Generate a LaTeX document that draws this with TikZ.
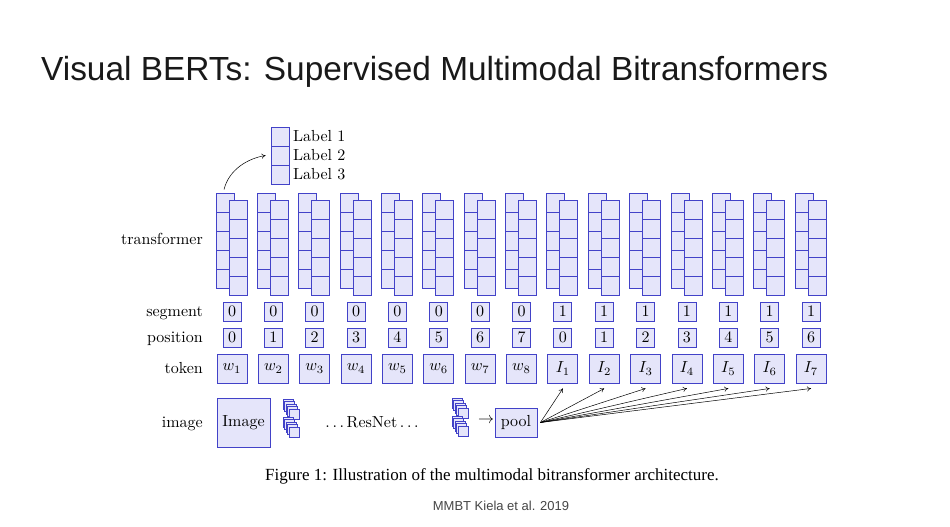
\RequirePackage{fix-cm}
\documentclass[tikz,border=0pt]{standalone}
\usepackage{fontspec}
\newfontfamily\titlefont{Liberation Sans}
\newfontfamily\capfont{Liberation Serif}
\usetikzlibrary{calc,arrows.meta}
\definecolor{bfill}{RGB}{229,229,250}
\definecolor{bdraw}{RGB}{66,66,200}
\definecolor{titlecol}{RGB}{25,25,25}
\definecolor{refcol}{RGB}{70,70,70}
\newcommand\dtxt[1]{\scalebox{1.6}{#1}}
\begin{document}
\begin{tikzpicture}[x=1pt,y=-1pt,
  every node/.style={font=\fontsize{10}{12}\selectfont},
  cell/.style={draw=bdraw,fill=bfill,line width=0.9pt,minimum width=18pt,minimum height=19pt,inner sep=0pt},
  tokbox/.style={cell,minimum width=30pt,minimum height=29pt},
  fmap/.style={cell,minimum width=10pt,minimum height=10pt,line width=0.8pt},
  rowlab/.style={anchor=base east,inner sep=0pt},
  arr/.style={-{To[length=4pt,width=5pt]},line width=0.5pt}
]
\fill[white] (0,0) rectangle (950,527);
\useasboundingbox (0,0) rectangle (950,527);

% title
\node[anchor=base west,inner sep=0pt,font=\titlefont\fontsize{33.4}{40}\selectfont,text=titlecol] (title) at (41,81) {Visual BERTs: Supervised Multimodal Bitransformers};

% transformer columns
\foreach \i in {1,...,15}{
  \pgfmathsetmacro\cx{232+41.36*(\i-1)}
  \foreach \j in {1,...,5}{
    \node[cell] (tb-\i-\j) at (\cx-7,183.5+19*\j) {};
  }
  \foreach \j in {1,...,5}{
    \node[cell] (tf-\i-\j) at (\cx+6,190.5+19*\j) {};
  }
  \pgfmathtruncatemacro\seg{\i>8 ? 1 : 0}
  \pgfmathtruncatemacro\pos{\i>8 ? \i-9 : \i-1}
  \pgfmathtruncatemacro\k{\i>8 ? \i-8 : \i}
  \node[cell] (seg-\i) at (\cx,311.5) {\dtxt{\seg}};
  \node[cell] (pos-\i) at (\cx,337.5) {\dtxt{\pos}};
  \ifnum\i>8
    \node[tokbox] (tok-\i) at (\cx,368.5) {\dtxt{$I_{\k}$}};
  \else
    \node[tokbox] (tok-\i) at (\cx,368.5) {\dtxt{$w_{\k}$}};
  \fi
}

% label stack
\foreach \j in {1,2,3}{
  \node[cell] (lab-\j) at (280,117.5+19*\j) {};
  \node[anchor=west,inner sep=0pt] (labt-\j) at (293,117.5+19*\j) {\dtxt{Label \j}};
}
\draw[arr] ($(tb-1-1.north)+(-1,-3)$) .. controls +(5,-20) and +(-18,3) .. ($(lab-2.west)+(-5,0)$);

% row labels
\node[rowlab] (rl-tr) at (203,244) {\dtxt{transformer}};
\node[rowlab] (rl-seg) at (203,316) {\dtxt{segment}};
\node[rowlab] (rl-pos) at (203,342) {\dtxt{position}};
\node[rowlab] (rl-tok) at (203,373) {\dtxt{token}};
\node[rowlab] (rl-img) at (203,427) {\dtxt{image}};

% image row
\node[cell,minimum width=53pt,minimum height=49pt] (img) at (243.5,422.5) {\dtxt{Image}};
\foreach \g in {0,1}{
  \foreach \n in {0,...,4}{
    \node[fmap] (fa-\g-\n) at (288+1.5*\n,404+18*\g+2.5*\n) {};
    \node[fmap] (fb-\g-\n) at (457+1.5*\n,403+18*\g+2.5*\n) {};
  }
}
\node (resnet) at (372,422) {\dtxt{$\ldots$\,ResNet\,$\ldots$}};
\node (arrtxt) at (486,421) {\dtxt{$\rightarrow$}};
\node[cell,minimum width=42pt,minimum height=29pt] (pool) at (516,422.5) {\dtxt{pool}};
\foreach \i in {9,...,15}{
  \draw[arr] ($(pool.east)+(3,0)$) -- ($(tok-\i.south)+(0,5)$);
}

% caption
\node[anchor=base,inner sep=0pt,font=\capfont\fontsize{17}{20}\selectfont] (cap) at (492,480) {Figure 1: Illustration of the multimodal bitransformer architecture.};
\node[anchor=base,inner sep=0pt,font=\titlefont\fontsize{13}{15}\selectfont,text=refcol] (ref) at (501,510) {MMBT Kiela et al. 2019};
\end{tikzpicture}
\end{document}
